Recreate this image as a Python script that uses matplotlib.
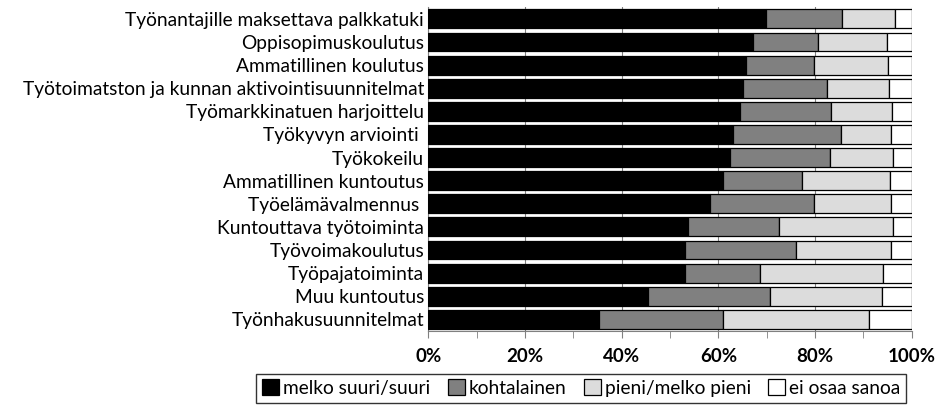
import numpy as np
import matplotlib.pyplot as plt

plt.rcParams['font.family'] = ['Lato', 'DejaVu Sans']

categories = [
    "Työnantajille maksettava palkkatuki",
    "Oppisopimuskoulutus",
    "Ammatillinen koulutus",
    "Työtoimatston ja kunnan aktivointisuunnitelmat",
    "Työmarkkinatuen harjoittelu",
    "Työkyvyn arviointi ",
    "Työkokeilu",
    "Ammatillinen kuntoutus",
    "Työelämävalmennus ",
    "Kuntouttava työtoiminta",
    "Työvoimakoulutus",
    "Työpajatoiminta",
    "Muu kuntoutus",
    "Työnhakusuunnitelmat",
]

# percentages per category
suuri = [69.8, 67.1, 65.7, 65.2, 64.5, 63.0, 62.4, 60.9, 58.3, 53.7, 53.1, 53.1, 45.5, 35.3]
kohtalainen = [15.7, 13.6, 14.1, 17.2, 18.8, 22.4, 20.7, 16.5, 21.4, 18.9, 22.9, 15.5, 25.1, 25.6]
pieni = [11.1, 14.1, 15.2, 12.9, 12.6, 10.3, 13.1, 18.1, 16.1, 23.6, 19.7, 25.4, 23.2, 30.3]
ei_osaa = [3.4, 5.2, 5.0, 4.7, 4.1, 4.3, 3.8, 4.5, 4.2, 3.8, 4.3, 6.0, 6.2, 8.8]

series = [suuri, kohtalainen, pieni, ei_osaa]
labels = ["melko suuri/suuri", "kohtalainen", "pieni/melko pieni", "ei osaa sanoa"]
colors = ["#000000", "#808080", "#dcdcdc", "#ffffff"]

fig = plt.figure(figsize=(9.39, 4.07), dpi=100)
ax = fig.add_axes([0.456, 0.187, 0.515, 0.795])

y = np.arange(len(categories))
left = np.zeros(len(categories))
for vals, lab, col in zip(series, labels, colors):
    vals = np.array(vals)
    ax.barh(y, vals, left=left, height=0.82, color=col, edgecolor='black',
            linewidth=0.9, label=lab, zorder=3)
    left += vals

ax.set_xlim(0, 100)
ax.set_ylim(len(categories) - 0.5, -0.5)
ax.set_yticks(y)
ax.set_yticklabels(categories, fontsize=13.8)
ax.tick_params(axis='y', length=0, pad=3)
ax.set_xticks(np.arange(0, 101, 20))
ax.set_xticks(np.arange(0, 101, 10), minor=True)
ax.set_xticklabels([f"{v}%" for v in range(0, 101, 20)], fontsize=13.5, fontweight='bold')
ax.tick_params(axis='x', which='both', direction='out', length=5, color='#808080', pad=7)
ax.grid(axis='x', color='#808080', linewidth=0.8, zorder=0)
for s in ['top', 'right']:
    ax.spines[s].set_visible(False)
ax.spines['left'].set_color('#808080')
ax.spines['bottom'].set_color('#808080')

fig.legend(loc='upper center', bbox_to_anchor=(0.619, 0.082), ncol=4, fontsize=13.8,
           frameon=True, fancybox=False, edgecolor='black', handlelength=0.9,
           handleheight=0.9, handletextpad=0.2, columnspacing=0.9, borderpad=0.3,
           borderaxespad=0)

fig.savefig("out.png", dpi=100)
